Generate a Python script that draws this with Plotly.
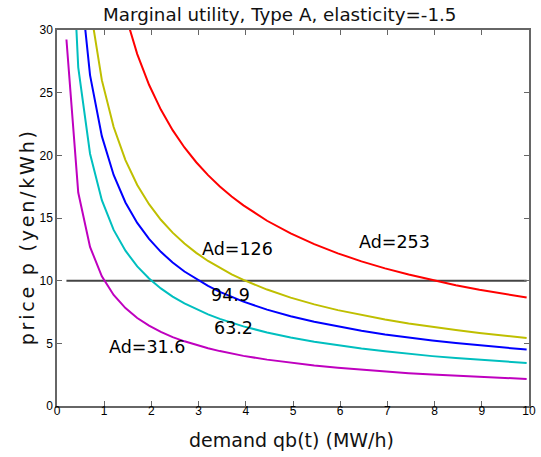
import plotly.graph_objects as go

# demand grid (MW/h) shared by all curves
q = [0.2, 0.45, 0.7, 0.95, 1.2, 1.45, 1.7, 1.95, 2.2, 2.45, 2.7, 2.95, 3.2, 3.45,
     3.7, 3.95, 4.45, 4.95, 5.45, 5.95, 6.45, 6.95, 7.45, 7.95, 8.45, 8.95, 9.45, 9.95]

# price (yen/kWh) per curve
p_ad31 = [29.24, 17.03, 12.69, 10.35, 8.86, 7.81, 7.02, 6.41, 5.91, 5.50, 5.16, 4.86, 4.61, 4.38,
          4.18, 4.00, 3.70, 3.44, 3.23, 3.05, 2.89, 2.75, 2.62, 2.51, 2.41, 2.32, 2.24, 2.16]
p_ad63 = [46.40, 27.02, 20.13, 16.42, 14.05, 12.39, 11.14, 10.17, 9.38, 8.73, 8.18, 7.72, 7.31, 6.95,
          6.63, 6.35, 5.87, 5.46, 5.12, 4.83, 4.58, 4.36, 4.16, 3.98, 3.82, 3.68, 3.55, 3.43]
p_ad95 = [60.85, 35.44, 26.40, 21.53, 18.43, 16.24, 14.61, 13.33, 12.30, 11.45, 10.73, 10.12, 9.58, 9.11,
          8.70, 8.33, 7.69, 7.16, 6.72, 6.34, 6.01, 5.71, 5.46, 5.23, 5.02, 4.83, 4.66, 4.50]
p_ad126 = [73.50, 42.79, 31.88, 26.00, 22.26, 19.62, 17.64, 16.10, 14.86, 13.83, 12.96, 12.22, 11.57, 11.01,
           10.50, 10.06, 9.29, 8.65, 8.11, 7.65, 7.25, 6.90, 6.59, 6.31, 6.06, 5.83, 5.62, 5.43]
p_ad253 = [116.96, 68.11, 50.74, 41.39, 35.42, 31.22, 28.08, 25.63, 23.65, 22.01, 20.63, 19.45, 18.42, 17.52,
           16.72, 16.01, 14.78, 13.77, 12.92, 12.18, 11.54, 10.98, 10.49, 10.04, 9.64, 9.28, 8.95, 8.65]

series = [
    ("Ad=31.6", p_ad31, "#bf00bf"),
    ("Ad=63.2", p_ad63, "#00bfbf"),
    ("Ad=94.9", p_ad95, "#0000ff"),
    ("Ad=126", p_ad126, "#bfbf00"),
    ("Ad=253", p_ad253, "#ff0000"),
]

price_line_x = [0.2, 9.95]
price_line_y = [10, 10]

labels = [
    ("Ad=253", 6.36, 13.09),
    ("Ad=126", 3.03, 12.53),
    ("94.9", 3.21, 8.82),
    ("63.2", 3.28, 6.20),
    ("Ad=31.6", 1.06, 4.67),
]

x_ticks = list(range(0, 11))
y_ticks = [0, 5, 10, 15, 20, 25, 30]

fig = go.Figure()
fig.add_trace(go.Scatter(x=price_line_x, y=price_line_y, mode="lines",
                         line=dict(color="#444444", width=2), showlegend=False))
for name, p, c in series:
    fig.add_trace(go.Scatter(x=q, y=p, mode="lines", name=name,
                             line=dict(color=c, width=2), showlegend=False))

txtfont = dict(family="DejaVu Sans", size=17.5, color="black")
for t, x, y in labels:
    fig.add_annotation(x=x, y=y, xref="x", yref="y", text=t, showarrow=False,
                       xanchor="left", yanchor="middle", font=txtfont)

fig.add_annotation(x=0.472, y=1.04, xref="paper", yref="paper",
                   text="Marginal utility, Type A, elasticity=-1.5", showarrow=False,
                   xanchor="center", yanchor="middle",
                   font=dict(family="DejaVu Sans", size=18.3, color="#111111"))
fig.add_annotation(x=0.496, y=-0.0904, xref="paper", yref="paper",
                   text="demand qb(t) (MW/h)", showarrow=False,
                   xanchor="center", yanchor="middle",
                   font=dict(family="DejaVu Sans", size=19, color="#111111"))
fig.add_annotation(x=-0.0632, y=0.449, xref="paper", yref="paper",
                   text='<span style="letter-spacing:2.8px">price p (yen/kWh)</span>',
                   showarrow=False, textangle=-90,
                   xanchor="center", yanchor="middle",
                   font=dict(family="DejaVu Sans", size=19, color="#111111"))

axis_common = dict(showgrid=False, zeroline=False, showline=True, linecolor="#666666",
                   linewidth=1.5, mirror="ticks", ticks="inside", ticklen=5,
                   tickwidth=1.2, tickcolor="#666666",
                   tickfont=dict(family="Liberation Sans", size=12, color="black"))

fig.update_xaxes(range=[0, 10], tickvals=x_ticks, ticktext=[str(v) for v in x_ticks],
                 ticklabelstandoff=-7, **axis_common)
fig.update_yaxes(range=[0, 30], tickvals=y_ticks, ticktext=[str(v) for v in y_ticks],
                 **axis_common)

fig.update_layout(width=541, height=457, margin=dict(l=57, r=5, t=30, b=51),
                  plot_bgcolor="white", paper_bgcolor="white")

# remove the page's default 8px body margin so the figure sits at the window origin
fig.write_html("out.html", config={"displayModeBar": False},
               post_script="document.body.style.margin='0';")
